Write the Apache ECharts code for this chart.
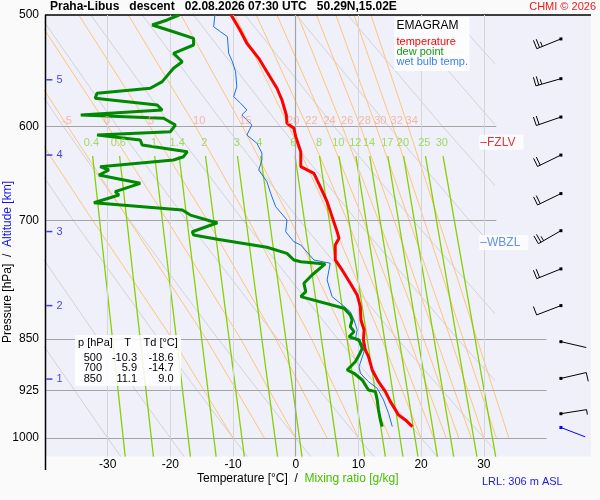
<!DOCTYPE html>
<html>
<head>
<meta charset="utf-8">
<title>Emagram Praha-Libus</title>
<script src="https://cdn.jsdelivr.net/npm/echarts@6/dist/echarts.min.js"></script>
<style>html,body{margin:0;padding:0;background:#fafafa;}</style>
</head>
<body>
<div id="chart" style="width:600px;height:500px;"></div>
<script>
// ---- sounding profiles (p in hPa, T in degC) ----
const tempP = [500,512.4,523.7,536.8,548.7,563.8,574.7,589.0,597.1,602.0,610.3,625.5,641.1,648.1,662.5,678.9,695.8,713.1,720.9,728.9,747.0,759.3,776.1,791.1,806.4,824.2,837.8,851.6,865.7,875.3,894.5,911.9,926.9,942.2,963.0,970.9,981.6];
const tempT = [-10.3,-8.9,-7.8,-5.9,-4.6,-3.0,-2.2,-1.5,-1.4,-0.3,0.0,0.8,0.8,2.9,3.9,5.0,5.8,6.6,6.9,6.3,6.3,7.4,8.7,9.8,10.3,10.4,10.9,10.8,11.1,11.6,12.2,13.2,14.3,15.1,16.4,17.5,18.6];

const dewP = [500,504.1,508.3,509.7,513.9,519.5,525.2,532.4,539.8,545.6,557.7,563.8,568.5,573.1,579.5,584.2,589.0,592.2,598.8,605.4,608.7,613.7,618.8,625.5,630.7,634.1,641.1,644.6,649.9,658.8,667.9,671.6,680.1,688.3,694.0,700.8,702.8,713.2,717.0,722.1,731.6,738.9,747.0,749.1,751.9,765.6,776.1,786.8,793.3,808.5,817.4,824.2,833.3,840.2,847.1,851.6,863.3,872.9,882.5,894.6,899.4,909.4,924.5,926.9,939.6,955.1,970.9,981.6];
const dewT = [-18.6,-20.5,-22.9,-23.2,-19.5,-16.3,-16.3,-19.5,-18.1,-19.5,-21.3,-23.2,-31.7,-32.0,-22.1,-21.3,-34.3,-21.1,-19.2,-20.0,-31.7,-24.8,-24.5,-17.3,-17.9,-19.5,-31.2,-29.8,-31.4,-24.8,-28.8,-28.2,-32.2,-18.1,-16.8,-13.6,-12.5,-16.5,-16.3,-12.5,-4.6,-1.4,-0.3,0.8,4.7,2.6,1.3,1.6,0.8,7.7,8.7,9.0,8.7,9.3,8.5,10.1,10.6,10.1,9.5,8.2,9.3,10.6,11.6,12.7,13.0,13.2,13.5,13.8];

const wetP = [500,509.7,513.9,518.1,532.4,539.8,548.7,562.3,571.6,577.8,584.2,589.0,598.8,608.7,616.9,627.0,634.1,644.6,657.1,669.7,684.5,699.6,713.2,725.0,728.9,747.0,751.0,771.9,793.3,801.9,813.0,824.2,837.8,851.6,856.2,868.1,889.7,899.4,911.9,921.8,939.6,960.3,981.6];
const wetT = [-12.9,-13.1,-12.0,-10.9,-10.7,-10.1,-9.6,-9.4,-9.9,-8.8,-7.8,-8.6,-7.0,-7.8,-6.2,-5.4,-5.4,-5.9,-4.6,-4.0,-3.2,-1.4,-1.6,-0.3,0.8,2.9,5.5,5.0,5.8,7.1,8.7,9.3,9.8,9.5,10.6,10.9,10.1,10.3,11.6,13.0,14.0,14.8,15.4];

// ---- wind (direction deg, speed kt) ----
const windP = [520,555,591,629,670,712,758,805,854,907,961,983];
const windDir = [248,254,251,244,244,240,248,249,103,77,81,111];
const windSpd = [25,25,20,20,20,25,20,10,3,10,5,3];

// ---- diagram background lines, T (degC) at the listed levels ----
const refLevels = [500,600,700,850,1000,1031];
const dryAdiabats = [
  [-73.7,-63.0,-53.6,-41.0,-30,-27.9],
  [-65.5,-54.4,-44.5,-31.5,-20,-17.8],
  [-57.3,-45.7,-35.5,-21.9,-10,-7.7],
  [-49.1,-37.1,-26.5,-12.4,0,2.4],
  [-40.9,-28.5,-17.4,-2.9,10,12.5],
  [-32.7,-19.8,-8.4,6.7,20,22.6],
  [-24.5,-11.2,0.6,16.2,30,32.7],
  [-16.3,-2.5,9.7,25.8,40,42.7],
  [-8.1,6.1,18.7,35.3,50,52.8],
  [0.1,14.8,27.7,44.9,60,62.9],
  [8.3,23.4,36.7,54.4,70,73.0],
  [16.6,32.0,45.8,64.0,80,83.1],
  [24.8,40.7,54.8,73.5,90,93.2],
  [33.0,49.3,63.8,83.1,100,103.3]
];
const moistLevels = [500,600,700,850,1000];
const moistAdiabats = [
  [-53.7,-42.3,-32.4,-19.7,-10],
  [-47.9,-36.4,-26.6,-14.3,-5],
  [-41.6,-30.0,-20.5,-8.8,0],
  [-34.6,-23.3,-14.1,-3.2,5],
  [-26.7,-16.0,-7.5,2.5,10],
  [-18.3,-8.5,-0.8,8.1,15],
  [-9.7,-1.1,5.7,13.7,20],
  [-6.3,1.8,8.2,15.9,22],
  [-3.0,4.8,10.8,18.1,24],
  [0.3,7.4,13.2,20.4,26],
  [3.3,10.3,15.7,22.4,28],
  [6.4,12.8,18.1,24.7,30],
  [9.3,15.5,20.5,26.7,32],
  [12.0,17.9,22.8,28.9,34]
];
const moistLabels = ['-5','0','5','10','15','20','22','24','26','28','30','32','34'];
const moistLabelT = [-36.5,-30.1,-23.1,-15.4,-8.0,-0.4,2.5,5.4,8.2,11.0,13.5,16.1,18.5];
const moistLabelP = 594.8;

const mixLevels = [630,1031];
const mixRatios = ['0.4','0.6','1','1.4','2','3','4','6','8','10','12','14','17','20','25','30'];
const mixTopT = [-32.4,-28.1,-22.5,-18.6,-14.4,-9.3,-5.6,-0.1,3.8,6.9,9.6,11.8,14.7,17.2,20.7,23.5];
const mixBottomT = [-27.2,-22.7,-16.8,-12.7,-8.2,-2.9,1.0,6.8,11.0,14.3,17.1,19.5,22.6,25.2,28.9,31.9];
const mixLabelT = [-32.6,-28.3,-22.6,-18.9,-14.6,-9.4,-5.8,-0.4,3.7,6.8,9.5,11.7,14.6,17.1,20.5,23.3];
const mixLabelP = 616.7;

const isobars = [500,600,700,850,925,1000];
const isotherms = [-30,-20,-10,0,10,20,30];
const altKm = ['5','4','3','2','1'];
const altP = [556,629,713,805,908];
const levelNames = ['FZLV','WBZL'];
const levelP = [616,726];

const tableP = ['500','700','850'];
const tableT = ['-10.3','5.9','11.1'];
const tableTd = ['-18.6','-14.7','9.0'];

const FONT = 'Liberation Sans, Arial, sans-serif';
const BARB_T = 42.3;

const chart = echarts.init(document.getElementById('chart'));

const series = [];
dryAdiabats.forEach(row => series.push({
  type: 'line', xAxisIndex: 1, yAxisIndex: 1, z: 1, silent: true,
  symbol: 'none', clip: true,
  data: refLevels.map((p, j) => [row[j], p]),
  lineStyle: { color: '#d2d2d2', width: 1 }
}));
moistAdiabats.forEach(row => series.push({
  type: 'line', z: 1, silent: true, symbol: 'none', clip: true,
  data: moistLevels.map((p, j) => [row[j], p]),
  lineStyle: { color: '#ffc47a', width: 1 }
}));
mixTopT.forEach((t, i) => series.push({
  type: 'line', z: 1, silent: true, symbol: 'none', clip: true,
  data: [[t, mixLevels[0]], [mixBottomT[i], mixLevels[1]]],
  lineStyle: { color: '#86d000', width: 1.3 }
}));

// isobars and isotherms
const lines = [];
isobars.forEach(p => {
  const endT = p === 500 ? 47.1 : (p >= 800 ? 40 : 32);
  lines.push([
    { coord: [-40, p],
      lineStyle: { color: p === 500 ? '#000' : '#a4a4a4', width: p === 500 ? 1.5 : 1.2, type: 'solid' },
      label: { show: true, position: 'start', formatter: String(p), color: '#000',
               fontSize: 12, fontFamily: FONT, distance: 6 } },
    { coord: [endT, p] }
  ]);
});
isotherms.forEach(t => {
  lines.push([
    { coord: [t, 500],
      lineStyle: { color: t === 0 ? '#a4a4a4' : '#d6d6d6', width: t === 0 ? 1.2 : 1, type: 'solid' },
      label: { show: false } },
    { coord: [t, 1031] }
  ]);
});
series.push({
  type: 'line', z: 2, data: [], silent: true,
  markLine: { silent: true, symbol: ['none', 'none'], animation: false, data: lines }
});

// curve labels
series.push({
  type: 'scatter', z: 9, silent: true, symbolSize: 1, itemStyle: { color: 'transparent' },
  data: moistLabelT.map((t, i) => ({ name: moistLabels[i], value: [t, moistLabelP] })),
  label: { show: true, position: 'inside', formatter: '{b}', color: '#f6a890', fontSize: 11, fontFamily: FONT }
});
series.push({
  type: 'scatter', z: 9, silent: true, symbolSize: 1, itemStyle: { color: 'transparent' },
  data: mixLabelT.map((t, i) => ({ name: mixRatios[i], value: [t, mixLabelP] })),
  label: { show: true, position: 'inside', formatter: '{b}', color: '#8cd23c', fontSize: 11, fontFamily: FONT }
});
// altitude marks
series.push({
  type: 'scatter', z: 9, silent: true, symbol: 'rect', symbolSize: [6, 1.5],
  itemStyle: { color: '#1414e6' },
  data: altP.map((p, i) => ({ name: altKm[i], value: [-39.3, p] })),
  label: { show: true, position: 'right', distance: 4, formatter: '{b}', color: '#1414e6', fontSize: 11, fontFamily: FONT }
});
// freezing / wet bulb zero levels
series.push({
  type: 'scatter', z: 9, silent: true, symbolSize: 1, itemStyle: { color: 'transparent' },
  data: levelP.map((p, i) => ({
    name: levelNames[i], value: [29.2, p],
    label: { color: i === 0 ? '#e00000' : '#3a78e0' }
  })),
  label: { show: true, position: 'right', distance: 0, formatter: '–{b}', fontSize: 12, fontFamily: FONT,
           backgroundColor: '#ffffff', padding: [2, 8, 1, 1] }
});

// profiles
series.push({
  type: 'line', z: 5, silent: true, symbol: 'none', clip: true,
  data: wetP.map((p, i) => [wetT[i], p]),
  lineStyle: { color: '#1e6ee6', width: 1 }
});
series.push({
  type: 'line', z: 6, silent: true, symbol: 'none', clip: true,
  data: dewP.map((p, i) => [dewT[i], p]),
  lineStyle: { color: '#008a00', width: 3 }
});
series.push({
  type: 'line', z: 7, silent: true, symbol: 'none', clip: true,
  data: tempP.map((p, i) => [tempT[i], p]),
  lineStyle: { color: '#ff0000', width: 3 }
});

// wind barbs
series.push({
  type: 'custom', z: 7, silent: true,
  encode: { x: 0, y: 1 },
  data: windP.map((p, i) => [BARB_T, p, windDir[i], windSpd[i], i === windP.length - 1 ? 1 : 0]),
  renderItem: function (params, api) {
    const pt = api.coord([api.value(0), api.value(1)]);
    const a = api.value(2) * Math.PI / 180;
    const spd = api.value(3);
    const col = api.value(4) ? '#0000ff' : '#000000';
    const L = 26;
    const ux = Math.sin(a), uy = -Math.cos(a);
    const bx = -uy, by = ux;
    const st = { stroke: col, lineWidth: 1 };
    const children = [
      { type: 'line', shape: { x1: pt[0], y1: pt[1], x2: pt[0] + ux * L, y2: pt[1] + uy * L }, style: st },
      { type: 'rect', shape: { x: pt[0] - 1.5, y: pt[1] - 1.5, width: 3, height: 3 }, style: { fill: col } }
    ];
    const full = Math.floor(spd / 10);
    const half = (spd % 10) >= 5;
    let pos = L;
    for (let k = 0; k < full; k++) {
      const sx = pt[0] + ux * pos, sy = pt[1] + uy * pos;
      children.push({ type: 'line', shape: { x1: sx, y1: sy, x2: sx + bx * 9, y2: sy + by * 9 }, style: st });
      pos -= 3;
    }
    if (half) {
      const sx = pt[0] + ux * pos, sy = pt[1] + uy * pos;
      children.push({ type: 'line', shape: { x1: sx, y1: sy, x2: sx + bx * 5, y2: sy + by * 5 }, style: st });
    }
    return { type: 'group', children: children };
  }
});

const txt = (x, y, text, fill, size, extra) => ({
  type: 'text', x: x, y: y, z: 20,
  style: Object.assign({ text: text, fill: fill, font: size + 'px ' + FONT, verticalAlign: 'middle' }, extra || {})
});

const graphic = [
  txt(50, 7, 'Praha-Libus   descent   02.08.2026 07:30 UTC   50.29N,15.02E', '#000', 12, { font: 'bold 12px ' + FONT }),
  txt(596, 7, 'CHMI © 2026', '#f01818', 11, { align: 'right' }),
  { type: 'line', z: 20, shape: { x1: 45.5, y1: 15, x2: 45.5, y2: 470 }, style: { stroke: '#000', lineWidth: 1.5 } },
  // legend box
  { type: 'rect', z: 19, shape: { x: 394.5, y: 17, width: 75, height: 54 }, style: { fill: 'rgba(255,255,255,0.85)' } },
  txt(396.5, 26, 'EMAGRAM', '#000', 12),
  txt(396.5, 42, 'temperature', '#ff0000', 11),
  txt(396.5, 52, 'dew point', '#109a10', 11),
  txt(396.5, 62, 'wet bulb temp.', '#3a80f0', 11),
  // table box
  { type: 'rect', z: 19, shape: { x: 75, y: 335, width: 106, height: 51 }, style: { fill: 'rgba(255,255,255,0.85)' } },
  txt(78, 343, 'p [hPa]', '#000', 11),
  txt(127.5, 343, 'T', '#000', 11, { align: 'center' }),
  txt(143.5, 343, 'Td [°C]', '#000', 11),
  // axis titles
  {
    type: 'text', x: 197, y: 479, z: 20,
    style: { text: '{a|Temperature [°C]  /  }{b|Mixing ratio [g/kg]}', verticalAlign: 'middle',
             rich: { a: { fill: '#000', font: '12px ' + FONT }, b: { fill: '#46c000', font: '12px ' + FONT } } }
  },
  {
    type: 'text', x: 8, y: 262, z: 20, rotation: Math.PI / 2,
    style: { text: '{a|Pressure [hPa]  /  }{b|Altitude [km]}', align: 'center', verticalAlign: 'middle',
             rich: { a: { fill: '#000', font: '12px ' + FONT }, b: { fill: '#1414e6', font: '12px ' + FONT } } }
  },
  txt(482, 482, 'LRL: 306 m ASL', '#1a1ae6', 11)
];
tableP.forEach((p, i) => {
  const y = 358 + i * 10.3;
  graphic.push(txt(102, y, p, '#000', 11, { align: 'right' }));
  graphic.push(txt(137, y, tableT[i], '#000', 11, { align: 'right' }));
  graphic.push(txt(173.5, y, tableTd[i], '#000', 11, { align: 'right' }));
});

chart.setOption({
  animation: false,
  backgroundColor: '#fafafa',
  grid: [
    { left: 45, top: 15, width: 546, height: 441.6, show: true, backgroundColor: '#f0f0fb', borderWidth: 0, outerBoundsMode: 'none', containLabel: false },
    { left: 45, top: 15, width: 448.2, height: 441.6, show: false, outerBoundsMode: 'none', containLabel: false }
  ],
  xAxis: [
    {
      gridIndex: 0, type: 'value', min: -40, max: 47.1, interval: 10, position: 'bottom',
      axisLine: { show: false }, axisTick: { show: false }, splitLine: { show: false },
      axisLabel: {
        margin: 2, color: '#000', fontSize: 12, fontFamily: FONT,
        formatter: v => (v >= -30 && v <= 30 && Number.isInteger(v)) ? String(v) : ''
      }
    },
    { gridIndex: 1, type: 'value', min: -40, max: 31.5, show: false }
  ],
  yAxis: [
    {
      gridIndex: 0, type: 'log', logBase: 10, min: 500, max: 1031, inverse: true,
      axisLine: { show: false },
      axisTick: { show: false }, axisLabel: { show: false }, splitLine: { show: false }
    },
    { gridIndex: 1, type: 'log', logBase: 10, min: 500, max: 1031, inverse: true, show: false }
  ],
  series: series,
  graphic: graphic
});
</script>
</body>
</html>
